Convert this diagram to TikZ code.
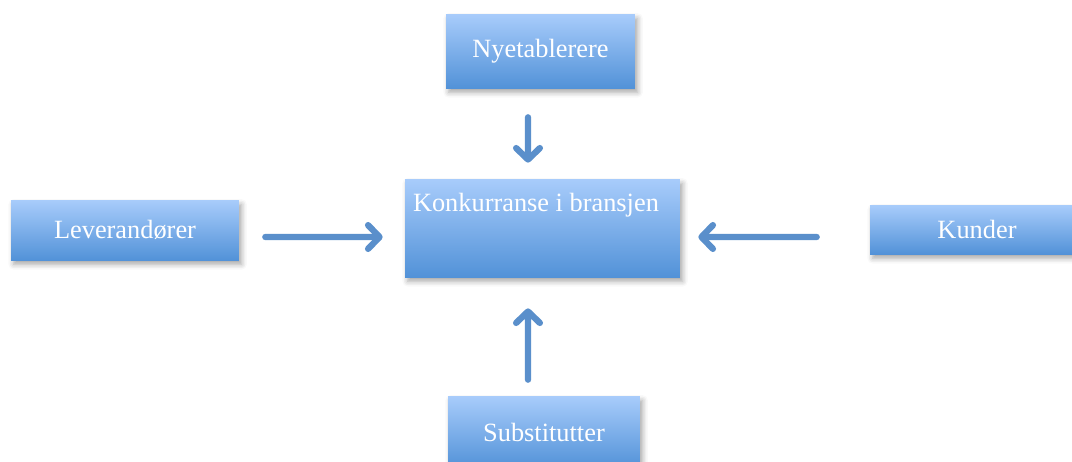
\documentclass[tikz,border=0pt]{standalone}
\usepackage{fontspec}
\setmainfont{Liberation Serif}
\usetikzlibrary{arrows.meta, shadows.blur}
\definecolor{boxtop}{RGB}{168,204,251}
\definecolor{boxbot}{RGB}{82,146,216}
\definecolor{pilblaa}{RGB}{90,143,203}
\tikzset{>={Straight Barb[length=6.5pt,width=13.5pt,round]}}
\tikzset{
  kraft/.style={rectangle, top color=boxtop, bottom color=boxbot, draw=none, text=white,
    font=\fontsize{15}{18}\selectfont,
    blur shadow={shadow xshift=1.5pt, shadow yshift=-2.5pt, shadow blur radius=3pt, shadow opacity=35}},
  pilen/.style={->, line width=3.6pt, draw=pilblaa, line cap=round},
}

\begin{document}
\begin{tikzpicture}[x=0.02cm, y=-0.02cm]
\useasboundingbox (0,0) rectangle (1072,461);
% the five forces
\node[kraft, minimum width=3.78cm, minimum height=1.48cm] (ny) at (540.5,51) {Nyetablerere};
\node[kraft, minimum width=5.5cm, minimum height=1.96cm] (konk) at (542.5,228) {};
\node[text=white, font=\fontsize{15}{18}\selectfont, inner sep=0pt, anchor=north west]
  (konktekst) at ([xshift=0.16cm, yshift=-0.28cm]konk.north west) {Konkurranse i bransjen};
\node[kraft, minimum width=4.56cm, minimum height=1.2cm] (lev) at (125,230) {Leverandører};
\node[kraft, minimum width=4.28cm, minimum height=0.98cm] (kun) at (977,229.5) {Kunder};
\node[kraft, minimum width=3.84cm, minimum height=1.44cm] (sub) at (544,432) {Substitutter};
% arrows
\draw[pilen, shorten <=0.58cm, shorten >=0.32cm] ([xshift=-0.25cm]ny.south) -- ([xshift=-0.29cm]konk.north);
\draw[pilen, shorten <=0.52cm, shorten >=0.44cm] ([yshift=-0.14cm]lev.east) -- ([yshift=-0.18cm]konk.west);
\draw[pilen, shorten <=1.06cm, shorten >=0.36cm] ([yshift=-0.15cm]kun.west) -- ([yshift=-0.18cm]konk.east);
\draw[pilen, shorten <=0.32cm, shorten >=0.62cm] ([xshift=-0.32cm]sub.north) -- ([xshift=-0.29cm]konk.south);
\end{tikzpicture}
\end{document}
